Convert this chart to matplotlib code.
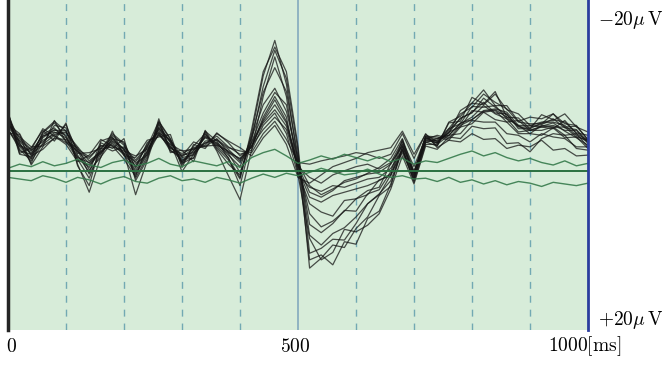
import numpy as np
import matplotlib
matplotlib.use("Agg")
from matplotlib import pyplot as plt

plt.rcParams['mathtext.fontset'] = 'cm'

# time axis [ms], one sample every 20 ms
t = np.arange(0, 1001, 20)

# single trials [uV], negative up
trials = [
    # big responders
    [-7.2,-2.1,-2.8,-4.9,-3.6,-5.8,-0.6,1.8,-3.4,-2.7,-3.9,1.2,-1.4,-6.3,-2.2,-2.5,-1.1,-4.9,-2.6,-0.8,
     0.5,-4.5,-11.5,-15.8,-10.5,-1.0,10.8,10.2,11.4,8.6,8.9,5.8,4.9,1.6,-2.5,1.2,-3.5,
     -3.0,-5.8,-6.0,-8.9,-8.1,-9.6,-6.5,-6.4,-5.1,-6.8,-6.2,-5.9,-4.6,-4.3],
    [-6.4,-3.9,-2.6,-5.1,-4.2,-3.2,-1.1,-1.9,-3.8,-3.0,-1.4,0.7,-2.9,-6.0,-3.9,-0.9,-1.6,-4.4,-3.0,-1.6,
     1.8,-3.8,-10.2,-14.6,-11.2,-2.5,11.8,10.6,9.0,9.3,7.0,5.6,3.0,1.9,-3.0,0.5,-4.0,
     -3.6,-4.6,-7.3,-8.2,-9.8,-7.9,-7.9,-6.0,-6.5,-6.3,-6.9,-5.3,-5.4,-3.8],
    [-6.9,-3.4,-0.9,-4.2,-4.9,-4.9,-0.8,2.6,-1.7,-3.5,-2.2,2.9,-1.2,-5.6,-3.4,0.1,-2.0,-4.7,-2.4,0.6,
     3.5,-2.5,-9.0,-13.8,-9.0,0.5,8.2,10.8,9.9,7.1,7.4,6.6,5.2,2.2,-1.8,1.6,-3.0,
     -2.6,-4.1,-3.9,-5.4,-5.1,-5.2,-3.3,-3.4,-2.3,-3.9,-4.5,-4.3,-2.7,-2.5],
    [-7.0,-2.4,-2.0,-4.4,-5.2,-3.6,-1.4,0.9,-2.6,-4.5,-3.3,0.9,-1.7,-5.9,-3.8,-0.7,-3.0,-4.5,-2.8,-1.3,
     1.0,-5.0,-12.0,-15.0,-12.0,-3.0,10.0,9.4,8.3,8.4,6.4,4.0,2.9,0.5,-3.4,0.2,-4.2,
     -3.0,-5.9,-6.6,-8.2,-8.0,-9.3,-7.4,-6.9,-5.5,-5.9,-6.1,-6.9,-5.3,-4.7],
    [-6.6,-2.0,-1.7,-4.7,-6.0,-4.8,-1.9,0.2,-3.6,-4.1,-2.0,0.5,-2.0,-5.8,-2.5,-1.4,-1.5,-4.8,-3.6,-1.5,
     0.8,-4.2,-9.5,-12.5,-9.6,-1.8,7.8,9.0,7.6,6.9,5.6,4.0,2.8,1.2,-2.6,0.9,-3.9,
     -3.4,-4.6,-6.4,-7.0,-8.8,-7.7,-6.8,-5.3,-5.3,-5.6,-6.3,-5.2,-5.0,-3.5],
    # medium responders
    [-6.0,-2.9,-1.5,-4.6,-5.8,-4.1,-1.7,-0.4,-2.8,-4.0,-2.6,0.3,-2.2,-5.3,-3.6,-1.0,-2.4,-4.2,-3.3,-1.9,
     -0.5,-4.0,-8.0,-10.0,-7.2,-1.5,6.5,7.5,6.4,4.8,4.9,2.8,2.3,0.1,-3.8,0.8,-3.6,
     -3.7,-5.1,-6.9,-7.7,-9.3,-8.3,-7.5,-5.9,-5.7,-5.7,-6.9,-5.7,-5.5,-3.7],
    [-6.2,-3.3,-1.4,-4.0,-5.0,-4.3,-1.3,-0.7,-2.1,-3.8,-2.5,0.0,-2.4,-5.1,-3.5,-1.2,-2.5,-4.0,-3.2,-2.1,
     0.2,-3.5,-7.0,-9.5,-8.0,-0.8,5.2,6.8,6.1,4.9,3.4,2.9,1.1,0.6,-2.8,1.4,-3.2,
     -3.2,-4.3,-4.5,-6.1,-5.9,-5.9,-4.5,-4.3,-3.5,-4.5,-4.1,-3.9,-2.9,-2.9],
    [-4.6,-4.4,-0.7,-2.9,-6.1,-3.5,-2.8,-0.1,-1.6,-4.8,-1.8,-1.6,-3.7,-4.1,-4.4,-0.4,-3.2,-2.7,-4.6,-3.4,
     -1.8,-2.8,-6.5,-9.0,-6.5,0.2,4.0,5.0,5.5,3.6,3.4,2.4,2.0,-0.9,-3.0,0.3,-4.2,
     -4.1,-3.7,-5.3,-5.7,-7.1,-6.2,-5.9,-4.5,-4.5,-4.3,-5.2,-4.0,-4.1,-2.7],
    [-4.8,-3.6,-2.0,-3.2,-4.3,-3.4,-2.4,-0.9,-2.2,-3.9,-3.5,-0.3,-3.4,-4.6,-3.7,-1.7,-2.7,-3.0,-3.1,-2.4,
     -1.4,-2.9,-6.2,-8.6,-6.0,-0.6,2.6,3.2,2.4,1.2,0.8,0.4,0.2,-0.8,-3.2,0.2,-4.1,
     -3.9,-4.3,-5.8,-6.2,-7.2,-7.4,-6.5,-5.4,-4.9,-5.4,-5.8,-4.8,-4.0,-3.1],
    # small responders
    [-5.1,-2.6,-1.2,-3.3,-5.5,-5.2,-2.5,0.4,-2.0,-4.3,-3.1,-0.9,-1.9,-4.5,-2.7,-2.1,-2.8,-3.3,-4.2,-2.9,
     -2.0,-2.5,-5.5,-7.0,-4.5,0.5,2.0,2.5,1.8,2.0,1.5,1.0,0.8,-0.3,-2.5,0.6,-3.8,
     -4.3,-3.9,-5.5,-6.2,-7.3,-7.5,-7.1,-5.5,-5.5,-5.3,-5.5,-4.9,-4.9,-3.3],
    [-5.5,-4.1,-2.9,-3.0,-3.9,-3.8,-2.3,-1.5,-3.1,-2.4,-2.9,-1.3,-3.0,-4.7,-2.4,-1.8,-3.5,-2.9,-3.9,-2.2,
     -1.5,-3.0,-5.0,-6.5,-5.0,-0.5,0.8,1.5,0.5,0.0,-0.5,-0.8,-0.2,-1.0,-3.6,-0.5,-4.0,
     -3.3,-5.1,-5.7,-7.8,-7.7,-7.9,-6.3,-5.5,-4.5,-5.5,-5.3,-5.3,-4.1,-3.7],
    [-4.9,-3.0,-2.2,-3.7,-4.4,-4.6,-2.9,-1.2,-2.3,-3.3,-1.9,-0.6,-3.2,-4.9,-2.9,-1.6,-1.9,-3.6,-3.8,-2.8,
     -2.4,-2.2,-4.5,-6.0,-3.8,-1.0,-0.8,-1.2,-1.5,-1.8,-2.2,-2.0,-1.5,-2.0,-4.5,-1.5,-4.5,
     -2.8,-3.7,-3.5,-4.5,-3.8,-3.9,-2.7,-3.1,-2.9,-3.7,-2.5,-2.7,-1.8,-1.9],
    [-5.6,-4.5,-1.8,-2.6,-4.0,-5.6,-2.1,-2.2,-2.7,-2.9,-2.4,-1.8,-2.6,-4.3,-3.2,-2.4,-2.6,-3.1,-4.5,-3.6,
     -2.8,-1.8,-4.0,-5.5,-3.2,0.8,1.5,0.5,-0.5,-1.0,-1.5,-2.2,-2.5,-2.8,-4.8,-2.0,-4.4,
     -3.5,-4.7,-5.3,-7.3,-7.1,-7.3,-5.9,-6.1,-4.9,-5.3,-5.1,-6.1,-4.5,-3.7],
    [-5.3,-3.7,-2.5,-3.5,-4.6,-4.7,-2.6,-1.7,-3.0,-3.1,-2.1,-1.1,-2.8,-4.4,-2.8,-1.9,-2.2,-3.4,-3.7,-2.6,
     -1.2,-3.4,-6.0,-8.0,-5.8,-0.2,3.2,3.8,3.0,2.6,2.2,1.8,1.2,0.4,-2.2,1.0,-3.4,
     -3.9,-4.3,-5.7,-6.5,-7.9,-6.9,-6.3,-4.7,-4.9,-4.9,-5.3,-4.3,-4.5,-2.9],
    [-5.8,-3.1,-2.4,-4.2,-4.7,-4.0,-1.6,-1.0,-2.4,-3.6,-2.7,-0.5,-2.3,-5.2,-3.0,-1.1,-2.1,-4.1,-3.4,-2.3,
     -1.0,-3.1,-5.8,-7.4,-5.4,-0.9,1.8,2.9,2.2,1.4,1.0,0.3,-0.4,-1.5,-3.9,0.1,-3.7,
     -3.4,-4.9,-6.3,-7.1,-8.3,-7.0,-6.9,-5.1,-5.1,-5.8,-5.9,-5.5,-4.3,-3.5],
]

# two non-responding (green) channels
green_low = [0.8,1.0,1.2,0.6,0.9,1.4,0.8,1.1,1.6,1.0,0.7,1.3,1.5,0.9,0.6,1.2,1.0,1.4,0.8,1.1,
             1.5,0.9,0.4,0.8,0.3,0.6,0.2,-0.3,0.1,0.5,0.3,-0.2,0.4,0.8,0.6,1.0,0.9,
             1.3,0.8,1.4,1.1,1.6,1.2,1.7,1.3,1.5,1.9,1.4,1.6,1.8,1.5]
green_high = [-0.3,-0.8,-0.5,-1.1,-0.6,-0.9,-1.4,-0.7,-0.4,-1.0,-1.3,-0.6,-0.9,-1.5,-0.8,-0.5,-1.2,-0.9,-0.6,-1.1,
              -0.4,-1.6,-2.2,-2.6,-1.8,-0.9,-1.3,-1.8,-1.4,-2.0,-1.6,-1.2,-1.7,-1.1,-1.5,-0.8,-1.2,
              -1.0,-1.5,-2.0,-2.4,-1.8,-2.2,-1.6,-1.2,-1.5,-1.0,-0.7,-1.2,-0.6,-0.9]

grid_ms = [100, 200, 300, 400, 600, 700, 800, 900]

fig = plt.figure(figsize=(6.62, 3.65), dpi=100)
ax = fig.add_axes([8/662, 35/365, 580/662, 330/365])
ax.set_facecolor('#d7ecd9')
ax.set_xlim(0, 1000)
ax.set_ylim(19.3, -20.7)
for s in ax.spines.values():
    s.set_visible(False)
ax.set_xticks([])
ax.set_yticks([])

for g in grid_ms:
    ax.axvline(g, color='#72a9b3', lw=1.0, ls=(0, (5, 5)))
ax.axvline(500, color='#8aaec0', lw=1.3)

for tr in trials:
    ax.plot(t, tr, color='#151515', lw=0.9, alpha=0.75)

ax.plot(t, green_low, color='#357a4b', lw=1.0, alpha=0.9)
ax.plot(t, green_high, color='#357a4b', lw=1.0, alpha=0.9)
ax.axhline(0, color='#2a7040', lw=1.4)

ax.axvline(0, color='#252525', lw=2.5, clip_on=False)
ax.axvline(1000, color='#2b3d9e', lw=2.0, clip_on=False)

fs = 14
fig.text(11/662, 1 - 346/365, r'$0$', ha='center', va='center', fontsize=fs)
fig.text(295/662, 1 - 346/365, r'$500$', ha='center', va='center', fontsize=fs)
fig.text(548/662, 1 - 346/365, r'$1000[\mathrm{ms}]$', ha='left', va='center', fontsize=fs)
fig.text(598/662, 1 - 20/365, r'$-20\mu\,\mathrm{V}$', ha='left', va='center', fontsize=fs)
fig.text(598/662, 1 - 320/365, r'$+20\mu\,\mathrm{V}$', ha='left', va='center', fontsize=fs)

fig.savefig('out.png', dpi=100)
